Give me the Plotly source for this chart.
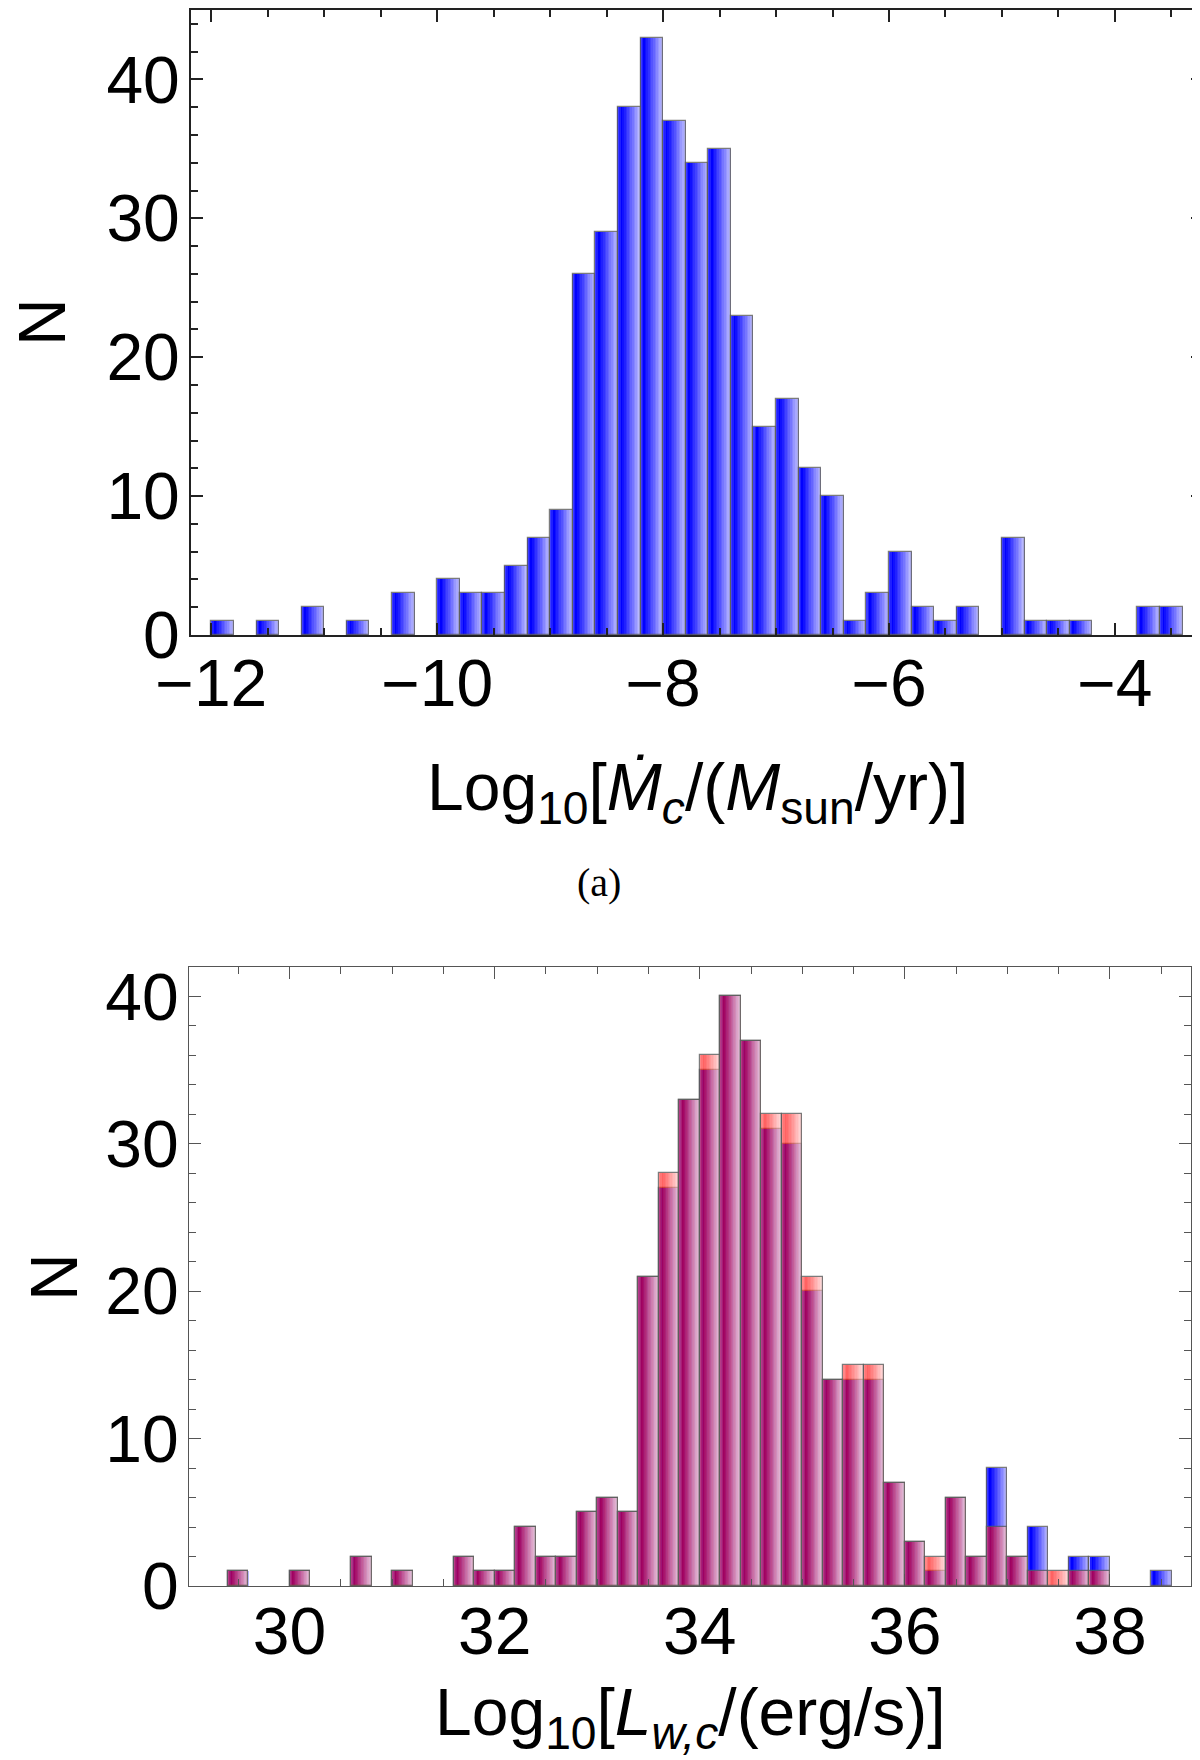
import plotly.graph_objects as go

# (a) mass-loss rate histogram, bins of 0.2 starting at -12.0
mdot_start = -12.0
mdot_counts = [1, 0, 1, 0, 2, 0, 1, 0, 3, 0,
               4, 3, 3, 5, 7, 9, 26, 29, 38, 43,
               37, 34, 35, 23, 15, 17, 12, 10, 1, 3,
               6, 2, 1, 2, 0, 7, 1, 1, 1, 0,
               0, 2, 2]

# (b) wind luminosity histograms, bins of 0.2 starting at 29.4
lw_start = 29.4
lw_blue = [1, 0, 0, 1, 0, 0, 2, 0, 1, 0,
           0, 2, 1, 1, 4, 2, 2, 5, 6, 5,
           21, 27, 33, 35, 40, 37, 31, 30, 20, 14,
           14, 14, 7, 3, 1, 6, 2, 8, 2, 4,
           0, 2, 2, 0, 0, 1]
lw_red = [1, 0, 0, 1, 0, 0, 2, 0, 1, 0,
          0, 2, 1, 1, 4, 2, 2, 5, 6, 5,
          21, 28, 33, 36, 40, 37, 32, 32, 21, 14,
          15, 15, 7, 3, 2, 6, 2, 4, 2, 1,
          1, 1, 1, 0, 0, 0]

bin_width = 0.2
n_slices = 14
font = "Liberation Sans, Arial, sans-serif"


def shade(t, top=0.76):
    # Mathematica-like bar gradient: a bit light at the left edge,
    # darkest near 18%, then fading out to the right edge
    if t < 0.18:
        return 0.3 * (1 - t / 0.18)
    return top * (t - 0.18) / 0.82


def add_hist(fig, start, counts, kind, xa, ya, alpha=1.0):
    xs = [round(start + bin_width * (i + 0.5), 3) for i, c in enumerate(counts) if c > 0]
    ys = [c for c in counts if c > 0]
    sw = bin_width / n_slices
    for k in range(n_slices):
        t = (k + 0.5) / n_slices
        if kind == "blue":
            v = round(255 * shade(t))
            col = f"rgba({v},{v},255,{alpha})"
        else:
            v = round(255 * shade(t, 0.82))
            col = f"rgba(255,{v},{v},{alpha})"
        fig.add_trace(go.Bar(
            x=xs, y=ys, width=sw, offset=-bin_width / 2 + k * sw,
            marker=dict(color=col, line=dict(width=0)),
            xaxis=xa, yaxis=ya, showlegend=False, hoverinfo="skip"))
    # outline
    fig.add_trace(go.Bar(
        x=xs, y=ys, width=bin_width,
        marker=dict(color="rgba(0,0,0,0)", line=dict(color="rgba(90,90,90,0.8)", width=1.2)),
        xaxis=xa, yaxis=ya, showlegend=False, hoverinfo="skip"))


fig = go.Figure()
add_hist(fig, mdot_start, mdot_counts, "blue", "x", "y")
add_hist(fig, lw_start, lw_blue, "blue", "x2", "y2")
add_hist(fig, lw_start, lw_red, "red", "x2", "y2", alpha=0.62)

W, H = 1200, 1760


def px_x(a, b):
    return [a / W, b / W]


def px_y(top, bottom):
    return [1 - bottom / H, 1 - top / H]


def axis_style(color, lw, dtick, minor_dtick, rng, dom, anchor, standoff):
    return dict(
        range=rng, domain=dom, anchor=anchor, automargin=False,
        showline=True, mirror="ticks", linecolor=color, linewidth=lw,
        ticks="inside", ticklen=12, tickwidth=lw, tickcolor=color,
        dtick=dtick, tick0=0, ticklabelstandoff=standoff,
        minor=dict(ticks="inside", ticklen=7, dtick=minor_dtick, tickcolor=color, tickwidth=lw),
        showgrid=False, zeroline=False,
        tickfont=dict(family=font, size=66, color="black"),
    )


fig.update_layout(
    width=W, height=H,
    margin=dict(l=0, r=0, t=0, b=0, autoexpand=False),
    paper_bgcolor="white", plot_bgcolor="white",
    barmode="overlay", bargap=0,
    xaxis=axis_style("#222", 2, 2, 0.5, [-12.18, -3.22], px_x(183, 1195), "y", -10),
    yaxis=axis_style("#222", 2, 10, 2, [0, 45], px_y(2, 627), "x", -4),
    xaxis2=axis_style("#555", 1.3, 2, 0.5, [29.02, 38.79], px_x(181, 1183), "y2", -12),
    yaxis2=axis_style("#555", 1.3, 10, 2, [0, 42], px_y(959, 1578), "x2", -4),
)

title_font = dict(family=font, size=66, color="black")
annotations = [
    dict(text="Log<sub>10</sub>[<i>Ṁ</i><sub><i>c</i></sub>/(<i>M</i><sub>sun</sub>/yr)]",
         x=689 / W, y=1 - 784 / H, font=title_font),
    dict(text="Log<sub>10</sub>[<i>L</i><sub><i>w,c</i></sub>/(erg/s)]",
         x=682 / W, y=1 - 1709 / H, font=title_font),
    dict(text="N", x=34 / W, y=1 - 314 / H, textangle=-90, font=title_font),
    dict(text="N", x=46 / W, y=1 - 1269 / H, textangle=-90, font=title_font),
    dict(text="(a)", x=591 / W, y=1 - 874 / H,
         font=dict(family="Liberation Serif, Times New Roman, serif", size=40, color="black")),
]
for a in annotations:
    a.update(xref="paper", yref="paper", xanchor="center", yanchor="middle", showarrow=False)
fig.update_layout(annotations=annotations)

fig.write_html("out.html")
